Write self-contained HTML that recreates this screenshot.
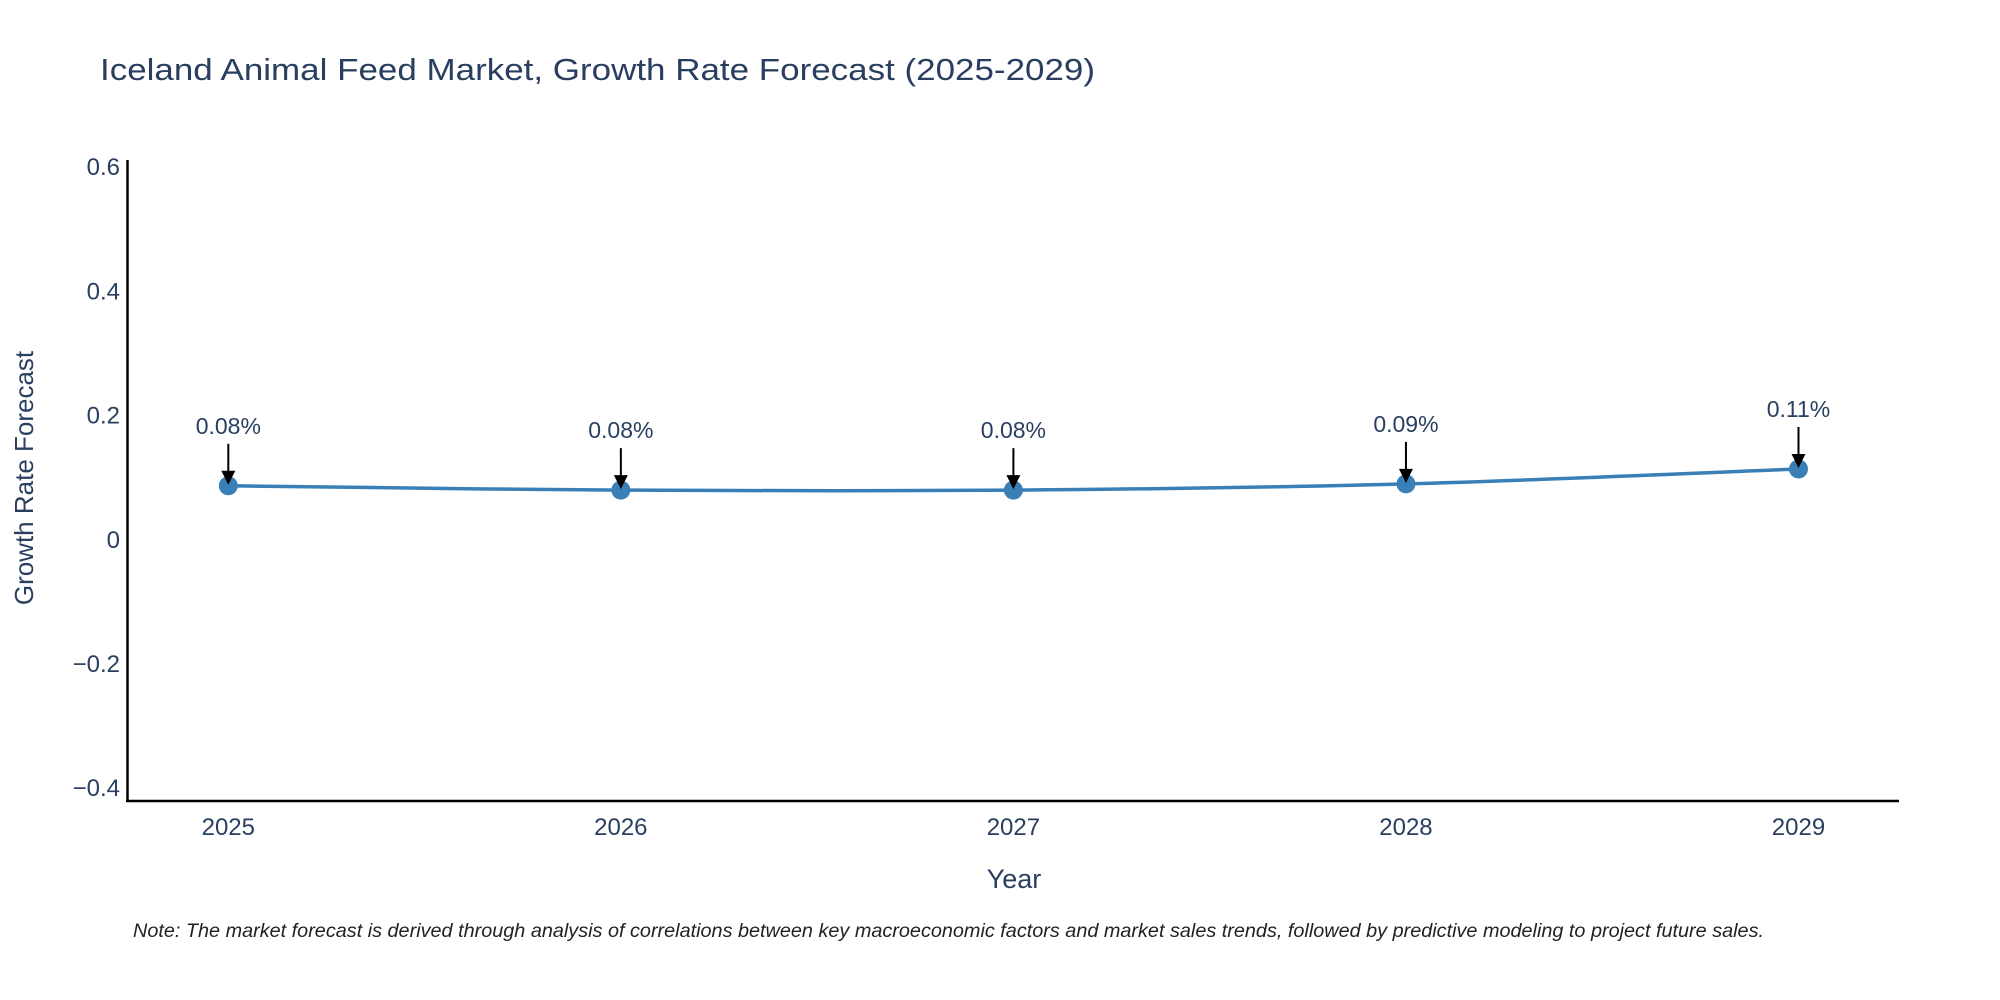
<!DOCTYPE html>
<html><head><meta charset="utf-8"><style>
html,body{margin:0;padding:0;background:#fff;}
svg{display:block;font-family:"Liberation Sans",sans-serif;}
</style></head><body>
<svg id="chart" width="2000" height="1000" viewBox="0 0 2000 1000" xmlns="http://www.w3.org/2000/svg">
<text x="100" y="80" font-size="31" fill="#2a3f5f" textLength="995" lengthAdjust="spacingAndGlyphs">Iceland Animal Feed Market, Growth Rate Forecast (2025-2029)</text>
<g id="yticks"></g>
<g id="xticks"></g>
<line x1="127.5" y1="160" x2="127.5" y2="802" stroke="#000" stroke-width="2.5"/>
<line x1="126" y1="801" x2="1899" y2="801" stroke="#000" stroke-width="2.5"/>
<g id="series"></g>
<g id="annots"></g>
<text transform="translate(33,478) rotate(-90)" text-anchor="middle" font-size="26" fill="#2a3f5f">Growth Rate Forecast</text>
<text x="1014" y="888" text-anchor="middle" font-size="27" fill="#2a3f5f">Year</text>
<text x="133" y="937" font-size="19" font-style="italic" fill="#222" textLength="1631" lengthAdjust="spacingAndGlyphs">Note: The market forecast is derived through analysis of correlations between key macroeconomic factors and market sales trends, followed by predictive modeling to project future sales.</text>
</svg>
<script>
const years = [2025, 2026, 2027, 2028, 2029];
const growth = [0.087, 0.08, 0.08, 0.09, 0.114];
const pointLabels = ["0.08%", "0.08%", "0.08%", "0.09%", "0.11%"];
const yTickValues = [0.6, 0.4, 0.2, 0, -0.2, -0.4];
const yTickLabels = ["0.6", "0.4", "0.2", "0", "\u22120.2", "\u22120.4"];

const NS = "http://www.w3.org/2000/svg";
function xScale(yr){ return 228.3 + (yr - 2025) * 392.55; }
function yScale(v){ return 539.8 - v * 621; }
function mk(tag, attrs, parent){ const e=document.createElementNS(NS,tag); for(const k in attrs) e.setAttribute(k,attrs[k]); parent.appendChild(e); return e; }

const yt=document.getElementById('yticks');
yTickValues.forEach((v,i)=>{
  const t=mk('text',{x:120,y:yScale(v)+8,'text-anchor':'end','font-size':24,fill:'#2a3f5f'},yt);
  
  
  t.textContent=yTickLabels[i];
});
const xt=document.getElementById('xticks');
years.forEach(yr=>{
  const t=mk('text',{x:xScale(yr),y:835,'text-anchor':'middle','font-size':24,fill:'#2a3f5f'},xt);
  
  
  t.textContent=String(yr);
});

const s=document.getElementById('series');
const pts=years.map((yr,i)=>[xScale(yr),yScale(growth[i])]);
let d='M'+pts[0][0]+','+pts[0][1];
for(let i=0;i<pts.length-1;i++){
  const p0=pts[Math.max(0,i-1)],p1=pts[i],p2=pts[i+1],p3=pts[Math.min(pts.length-1,i+2)];
  const c1x=p1[0]+(p2[0]-p0[0])/6,c1y=p1[1]+(p2[1]-p0[1])/6;
  const c2x=p2[0]-(p3[0]-p1[0])/6,c2y=p2[1]-(p3[1]-p1[1])/6;
  d+=' C'+c1x+','+c1y+' '+c2x+','+c2y+' '+p2[0]+','+p2[1];
}
const path=mk('path',{d:d,fill:'none',stroke:'#3a7fb5','stroke-width':3.5},s);


years.forEach((yr,i)=>{
  const c=mk('circle',{cx:xScale(yr),cy:yScale(growth[i]),r:9.5,fill:'#3a7fb5'},s);
  
  
});

const a=document.getElementById('annots');
years.forEach((yr,i)=>{
  const x=xScale(yr), y=yScale(growth[i]);
  const ln=mk('line',{x1:x,y1:y-42,x2:x,y2:y-12,stroke:'#000','stroke-width':2},a);
  
  
  const hd=mk('polygon',{points:(x-7)+','+(y-15)+' '+(x+7)+','+(y-15)+' '+x+','+(y-1),fill:'#000'},a);
  
  
  const t=mk('text',{x:x,y:y-52,'text-anchor':'middle','font-size':23,fill:'#2a3f5f'},a);
  
  
  t.textContent=pointLabels[i];
});
</script>
</body></html>
